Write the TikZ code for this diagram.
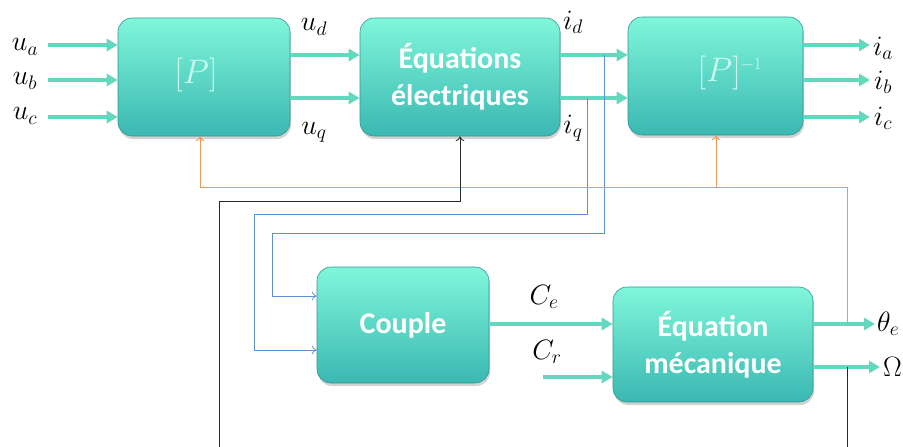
\RequirePackage{fix-cm}
\documentclass[tikz,border=0pt]{standalone}
\usepackage{fontspec}
\newfontfamily\boxfont{Carlito}
\usetikzlibrary{arrows.meta,shadows}
\definecolor{boxtop}{RGB}{128,246,218}
\definecolor{boxbot}{RGB}{58,184,178}
\definecolor{boxedge}{RGB}{50,150,148}
\definecolor{teal1}{RGB}{100,216,190}
\definecolor{blue1}{RGB}{95,145,215}
\definecolor{orange1}{RGB}{240,150,90}
\definecolor{dark1}{RGB}{40,40,40}
\definecolor{ptext}{RGB}{205,252,238}
\tikzset{
  blk/.style={rounded corners=14pt, top color=boxtop, bottom color=boxbot,
    draw=boxedge, line width=0.6pt, inner sep=0pt,
    drop shadow={shadow xshift=1pt, shadow yshift=-3pt, opacity=0.35},
    text=white, font=\boxfont\bfseries\fontsize{30}{37}\selectfont, align=center},
  ptx/.style={text=ptext, font=\fontsize{34}{36}\selectfont},
  lab/.style={font=\fontsize{28}{30}\selectfont, inner sep=0pt},
  sig/.style={draw=teal1, line width=3.5pt, -{Triangle[length=11pt,width=12pt]}},
  bl/.style={draw=blue1, line width=0.8pt, -{To[length=5pt,width=9pt]}},
  or/.style={draw=orange1, line width=0.9pt, -{To[length=5pt,width=9pt]}},
  bk/.style={draw=dark1, line width=0.8pt, -{To[length=5pt,width=9pt]}},
}
\begin{document}
\begin{tikzpicture}[x=1pt,y=-1pt]
\useasboundingbox (0,0) rectangle (903,447);
\clip (0,0) rectangle (903,447);
\fill[white] (0,0) rectangle (903,447);

% blocks
\node[blk, minimum width=172pt, minimum height=118pt] (P) at (204,77) {};
\node[ptx] (Ptext) at (196,75) {$[P]$};
\node[blk, minimum width=200pt, minimum height=118pt] (E) at (460,77) {Équations\\électriques};
\node[blk, minimum width=175pt, minimum height=118pt] (Pi) at (715.5,76) {};
\node[ptx] (Pitext) at (730,73) {$[P]^{\scriptscriptstyle -1}$};
\node[blk, minimum width=172pt, minimum height=116pt] (C) at (403,325) {Couple};
\node[blk, minimum width=200pt, minimum height=115pt] (M) at (713,344.5) {Équation\\mécanique};

% labels
\node[lab] (ua) at (25,47) {$u_a$};
\node[lab] (ub) at (25,81) {$u_b$};
\node[lab] (uc) at (25,116) {$u_c$};
\node[lab] (ud) at (314,27) {$u_d$};
\node[lab] (uq) at (314,132) {$u_q$};
\node[lab] (id) at (573,22) {$i_d$};
\node[lab] (iq) at (573,128) {$i_q$};
\node[lab] (ia) at (883,48) {$i_a$};
\node[lab] (ib) at (883,82) {$i_b$};
\node[lab] (ic) at (883,118) {$i_c$};
\node[lab] (Ce) at (544,297) {$C_e$};
\node[lab] (Cr) at (547,352) {$C_r$};
\node[lab, anchor=west] (th) at (877,324) {$\theta_e$};
\node[lab, anchor=west] (Om) at (883,367) {$\Omega$};

% coordinates
\coordinate (ia0) at (48,45);
\coordinate (ib0) at (48,80);
\coordinate (ic0) at (48,117);
\coordinate (ia1) at (870,45);
\coordinate (ib1) at (870,80);
\coordinate (ic1) at (870,117);
\coordinate (Cr0) at (543,377);
\coordinate (th1) at (875,324);
\coordinate (Om1) at (880,367);
\coordinate (bd) at (604,55);
\coordinate (bq) at (587,98);
\coordinate (oth) at (847,324);
\coordinate (oOm) at (847,367);
\coordinate (obr) at (716,187);

% teal signals
\draw[sig] (ia0) -- (P.west |- ia0);
\draw[sig] (ib0) -- (P.west |- ib0);
\draw[sig] (ic0) -- (P.west |- ic0);
\draw[sig] (P.east |- 0,55) -- (E.west |- 0,55);
\draw[sig] (P.east |- 0,98) -- (E.west |- 0,98);
\draw[sig] (E.east |- 0,55) -- (Pi.west |- 0,55);
\draw[sig] (E.east |- 0,98) -- (Pi.west |- 0,98);
\draw[sig] (Pi.east |- ia1) -- (ia1);
\draw[sig] (Pi.east |- ib1) -- (ib1);
\draw[sig] (Pi.east |- ic1) -- (ic1);
\draw[sig] (C.east |- 0,324) -- (M.west |- 0,324);
\draw[sig] (Cr0) -- (M.west |- Cr0);
\draw[sig] (M.east |- th1) -- (th1);
\draw[sig] (M.east |- Om1) -- (Om1);

% blue feedback to Couple
\draw[bl] (bd) -- (604,233) -- (272,233) -- (272,296) -- (C.west |- 0,296);
\draw[bl] (bq) -- (587,214) -- (254,214) -- (254,350) -- (C.west |- 0,350);

% orange theta feedback
\draw[or] (oth) -- (847,187) -- (200,187) -- (P.south -| 200,0);
\draw[or] (obr) -- (Pi.south -| obr);

% black omega feedback
\draw[bk] (oOm) -- (847,470) -- (219,470) -- (219,201) -- (460,201) -- (E.south);
\end{tikzpicture}
\end{document}
